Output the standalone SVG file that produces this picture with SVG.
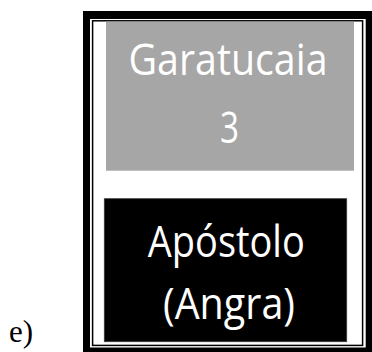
<svg xmlns="http://www.w3.org/2000/svg" width="372" height="352" viewBox="0 0 372 352">
  <style>
    .lbl { font-family: "Open Sans", "Noto Sans", sans-serif; fill: #ffffff; text-anchor: middle; }
    .cap { font-family: "Liberation Serif", serif; fill: #000000; }
  </style>
  <rect x="0" y="0" width="372" height="352" fill="#ffffff"/>
  <g id="frame">
    <rect x="83" y="11" width="289" height="341" fill="#000000"/>
    <rect x="90" y="19" width="275.7" height="328.5" fill="#ffffff"/>
    <rect x="92.6" y="20.8" width="270" height="324.6" fill="none" stroke="#000000" stroke-width="1.5"/>
  </g>
  <g id="node-garatucaia">
    <rect x="106" y="21.7" width="248" height="149" fill="#a6a6a6"/>
    <text class="lbl" x="228" y="75" font-size="43" textLength="199" lengthAdjust="spacingAndGlyphs">Garatucaia</text>
    <text class="lbl" x="229.5" y="143" font-size="43" textLength="19" lengthAdjust="spacingAndGlyphs">3</text>
  </g>
  <g id="node-apostolo">
    <rect x="104.3" y="198.7" width="242.4" height="143" fill="#000000" stroke="#3a3a3a" stroke-width="0.8"/>
    <text class="lbl" x="226.3" y="256.5" font-size="43" textLength="157" lengthAdjust="spacingAndGlyphs">Apóstolo</text>
    <text class="lbl" x="229" y="318.5" font-size="43" textLength="132" lengthAdjust="spacingAndGlyphs">(Angra)</text>
  </g>
  <text class="cap" x="9" y="342" font-size="31">e)</text>
</svg>
